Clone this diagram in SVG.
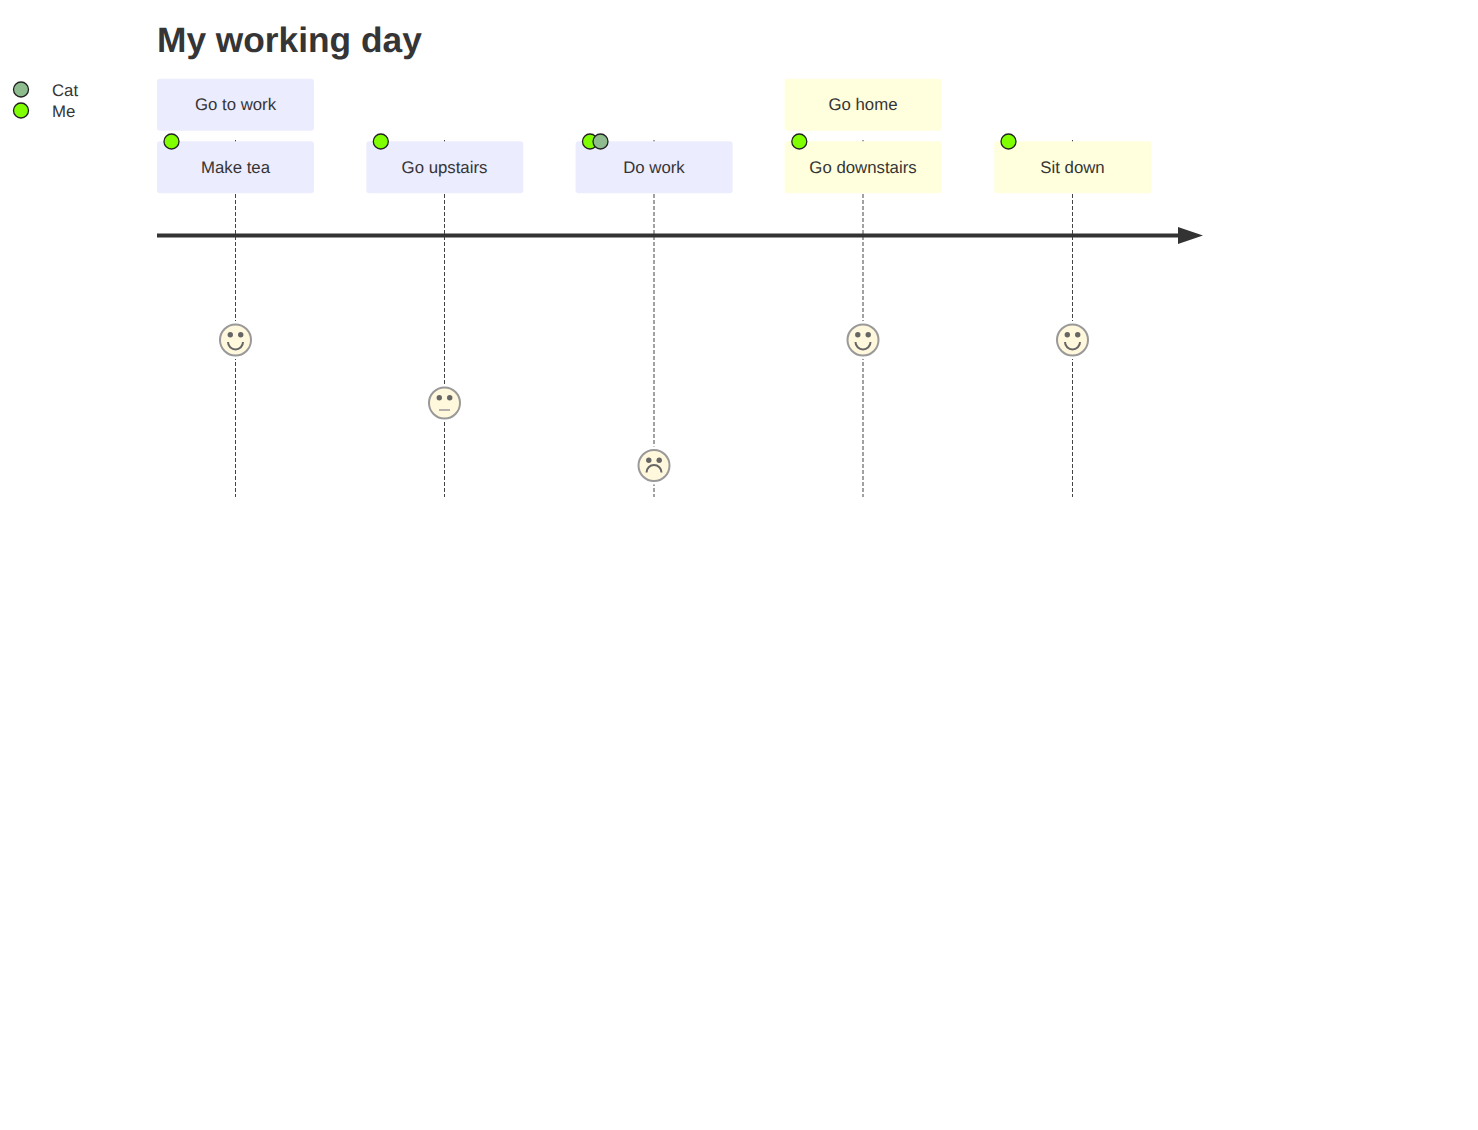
<svg xmlns="http://www.w3.org/2000/svg" width="1478" height="1130" viewBox="0 0 1478 1130">
<style>
text{font-family:"Liberation Sans",Arial,sans-serif;fill:#333;font-size:16.8px;text-rendering:geometricPrecision;opacity:.99}
.t{text-anchor:middle;dominant-baseline:central}
.title{font-size:35.3px;font-weight:bold}
.a{fill:#ececff}.b{fill:#ffffde}
.d{stroke:#444;stroke-width:1;stroke-dasharray:4 2;fill:none}
.halo{fill:#fff}
.face{fill:#fff8dc;stroke:#999;stroke-width:2}
.eye{fill:#666;stroke:none}
.mouth{fill:none;stroke:#666;stroke-width:2}
.flat{fill:none;stroke:#999;stroke-width:1.5}
.me{fill:#7fff00;stroke:#222;stroke-width:1.3}
.cat{fill:#8fbc8f;stroke:#222;stroke-width:1.3}
</style>
<defs>
<g id="base"><circle class="halo" r="19"/><circle class="face" r="15.5"/><circle class="eye" cx="-5.2" cy="-5.2" r="2.7"/><circle class="eye" cx="5.2" cy="-5.2" r="2.7"/></g>
</defs>
<text class="title" x="157" y="52">My working day</text>
<g id="legend">
<circle class="cat" cx="21" cy="89.5" r="7.5"/><text x="52" y="96">Cat</text>
<circle class="me" cx="21" cy="110.5" r="7.5"/><text x="52" y="117">Me</text>
</g>
<g id="connectors">
<line class="d" x1="235.5" y1="140" x2="235.5" y2="497"/>
<line class="d" x1="444.5" y1="140" x2="444.5" y2="497"/>
<line class="d" x1="654" y1="140" x2="654" y2="497"/>
<line class="d" x1="863" y1="140" x2="863" y2="497"/>
<line class="d" x1="1072.5" y1="140" x2="1072.5" y2="497"/>
</g>
<g id="section-work"><rect class="a" x="157" y="78.8" width="157" height="52" rx="3"/><text class="t" x="235.5" y="104.5">Go to work</text></g>
<g id="section-home"><rect class="b" x="784.6" y="78.8" width="156.900" height="52" rx="3"/><text class="t" x="863" y="104.5">Go home</text></g>
<g id="task-make-tea"><rect class="a" x="157" y="141.300" width="157" height="52" rx="3"/><text class="t" x="235.5" y="167.500">Make tea</text><circle class="me" cx="171.500" cy="141.500" r="7.500"/></g>
<g id="task-go-upstairs"><rect class="a" x="366.300" y="141.300" width="157" height="52" rx="3"/><text class="t" x="444.5" y="167.500">Go upstairs</text><circle class="me" cx="380.800" cy="141.500" r="7.500"/></g>
<g id="task-do-work"><rect class="a" x="575.600" y="141.300" width="157" height="52" rx="3"/><text class="t" x="654" y="167.500">Do work</text><circle class="me" cx="590" cy="141.500" r="7.500"/><circle class="cat" cx="600.500" cy="141.500" r="7.500"/></g>
<g id="task-go-downstairs"><rect class="b" x="784.600" y="141.300" width="156.900" height="52" rx="3"/><text class="t" x="863" y="167.500">Go downstairs</text><circle class="me" cx="799.300" cy="141.500" r="7.500"/></g>
<g id="task-sit-down"><rect class="b" x="994.300" y="141.300" width="157.200" height="52" rx="3"/><text class="t" x="1072.500" y="167.500">Sit down</text><circle class="me" cx="1008.500" cy="141.500" r="7.500"/></g>
<g id="axis"><line x1="157" y1="235.500" x2="1190" y2="235.500" stroke="#333" stroke-width="4"/><path d="M1178 227L1203 235.500L1178 244Z" fill="#333"/></g>
<g id="face-make-tea" transform="translate(235.500 340)"><use href="#base"/><path class="mouth" d="M-7.500 2A7.500 7.500 0 0 0 7.500 2"/></g>
<g id="face-go-upstairs" transform="translate(444.500 403)"><use href="#base"/><line class="flat" x1="-5.500" y1="7" x2="5.500" y2="7"/></g>
<g id="face-do-work" transform="translate(654 465.500)"><use href="#base"/><path class="mouth" d="M-7.500 7A7.500 7.500 0 0 1 7.500 7"/></g>
<g id="face-go-downstairs" transform="translate(863 340)"><use href="#base"/><path class="mouth" d="M-7.500 2A7.500 7.500 0 0 0 7.500 2"/></g>
<g id="face-sit-down" transform="translate(1072.500 340)"><use href="#base"/><path class="mouth" d="M-7.500 2A7.500 7.500 0 0 0 7.500 2"/></g>
</svg>
